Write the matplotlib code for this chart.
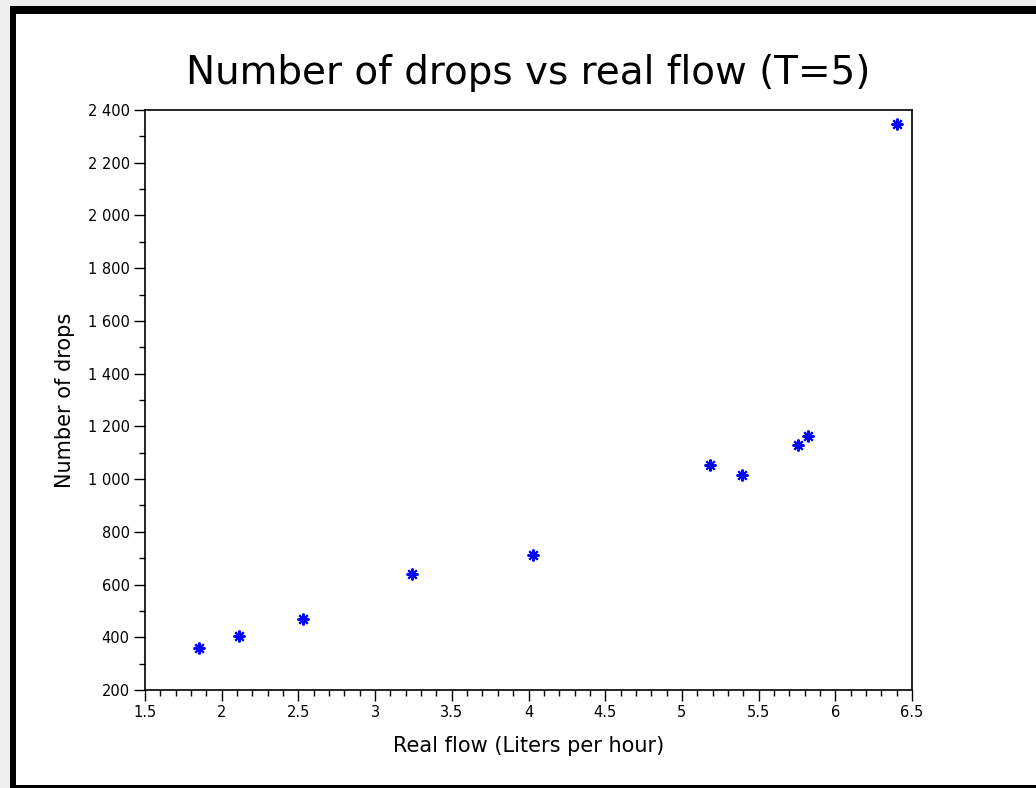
import matplotlib
matplotlib.use('Agg')
import matplotlib.pyplot as plt
from matplotlib.patches import Rectangle
from matplotlib.ticker import MultipleLocator, FuncFormatter

# --- data ---
flow = [1.85, 2.11, 2.53, 3.24, 4.03, 5.18, 5.39, 5.76, 5.82, 6.40]
drops = [360, 405, 469, 640, 712, 1054, 1016, 1130, 1164, 2348]

W, H = 1036, 788
fig = plt.figure(figsize=(W / 100, H / 100), dpi=100)
fig.patch.set_facecolor('#eeeeee')


def px(x, y, w, h):
    # pixel box (top-left origin) -> figure coords
    return (x / W, 1 - (y + h) / H), w / W, h / H


# --- screenshot frame: white card with black border ---
for (x, y, w, h), c in [((10, 6, 1026, 782), 'black'),
                        ((16, 14, 1020, 771), 'white')]:
    xy, fw, fh = px(x, y, w, h)
    fig.patches.append(Rectangle(xy, fw, fh, transform=fig.transFigure,
                                 facecolor=c, edgecolor='none', zorder=-5))

ax = fig.add_axes([145 / W, 1 - 690 / H, (912 - 145) / W, (690 - 110) / H])
ax.set_facecolor('white')

ax.plot(flow, drops, linestyle='none', marker=(8, 2, 0), markersize=8.5,
        markeredgewidth=1.5, color='#0000ff')

ax.set_xlim(1.5, 6.5)
ax.set_ylim(200, 2400)
ax.xaxis.set_major_locator(MultipleLocator(0.5))
ax.xaxis.set_minor_locator(MultipleLocator(0.1))
ax.yaxis.set_major_locator(MultipleLocator(200))
ax.yaxis.set_minor_locator(MultipleLocator(100))
ax.xaxis.set_major_formatter(FuncFormatter(lambda v, p: ('%g' % v)))
ax.yaxis.set_major_formatter(
    FuncFormatter(lambda v, p: '{:,}'.format(int(v)).replace(',', ' ')))

ax.tick_params(which='major', length=8, width=1, labelsize=10.5, pad=3,
               colors='black')
ax.tick_params(which='minor', length=4, width=1)
for s in ax.spines.values():
    s.set_linewidth(1.2)

ax.set_title('Number of drops vs real flow (T=5)', fontsize=28, pad=19)
ax.set_xlabel('Real flow (Liters per hour)', fontsize=15, labelpad=11)
ax.set_ylabel('Number of drops', fontsize=15, labelpad=9)

fig.savefig('out.png', dpi=100, facecolor=fig.get_facecolor())
